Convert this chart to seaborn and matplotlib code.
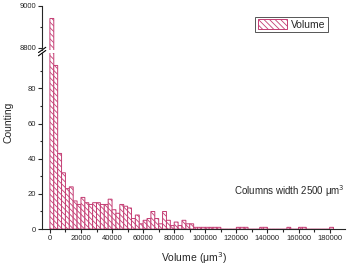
import numpy as np
import pandas as pd
import seaborn as sns
import matplotlib.pyplot as plt
from matplotlib.patches import Patch

# counts per 2500 um^3 column
bin_width = 2500
counts = [8940, 93, 43, 32, 23, 24, 16, 14, 18, 15, 14, 15, 15, 14, 14, 17,
          11, 9, 14, 13, 12, 6, 8, 3, 5, 6, 10, 6, 3, 10, 5, 2, 4, 2, 5, 3,
          3, 1, 1, 1, 1, 1, 1, 1, 0, 0, 0, 0, 1, 1, 1, 0, 0, 0, 1, 1, 0, 0,
          0, 0, 0, 1, 0, 0, 1, 1, 0, 0, 0, 0, 0, 0, 1]
bin_left = np.arange(len(counts)) * bin_width

low_ticks = [0, 20, 40, 60, 80]
high_ticks = [8800, 9000]
x_ticks = [0, 20000, 40000, 60000, 80000, 100000, 120000, 140000, 160000, 180000]

df = pd.DataFrame({'volume': bin_left + bin_width / 2, 'count': counts})

sns.set_style("ticks")
plt.rcParams['font.family'] = ['Liberation Sans', 'DejaVu Sans']
plt.rcParams['hatch.linewidth'] = 0.6
plt.rcParams['hatch.color'] = '#c43c73'

pink = '#c43c73'
hatch = '\\' * 6

fig = plt.figure(figsize=(3.54, 2.67), dpi=100)
ax_hi = fig.add_axes([0.119, 0.813, 0.856, 0.165])
ax_lo = fig.add_axes([0.119, 0.142, 0.856, 0.659])

for ax in (ax_hi, ax_lo):
    sns.histplot(data=df, x='volume', weights='count', binwidth=bin_width,
                 binrange=(0, len(counts) * bin_width), ax=ax,
                 color='white', linewidth=0.7, alpha=1)
    for p in ax.patches:
        p.set_facecolor('white')
        p.set_edgecolor(pink)
        p.set_hatch(hatch)
        if hasattr(p, 'set_hatchcolor'):
            p.set_hatchcolor(pink)
        p.set_linewidth(0.7)
        p.set_snap(False)
    ax.set_xlim(-5000, 190000)
    ax.set_ylabel('')
    ax.set_xlabel('')
    sns.despine(ax=ax)
    ax.tick_params(labelsize=5.5, length=3, width=0.8, pad=1.5)
    ax.tick_params(which='minor', length=1.8, width=0.8)
    for s in ax.spines.values():
        s.set_linewidth(0.8)

ax_hi.set_ylim(8790, 9000)
ax_hi.set_yticks(high_ticks)
ax_hi.set_yticks([8900], minor=True)
ax_hi.spines['bottom'].set_visible(False)
ax_hi.set_xticks([])

ax_lo.set_ylim(0, 100)
ax_lo.set_yticks(low_ticks)
ax_lo.set_yticks([10, 30, 50, 70, 90], minor=True)
ax_lo.set_xticks(x_ticks)
ax_lo.set_xticks(np.arange(10000, 190000, 20000), minor=True)

# break marks on the left axis
for ax, y0 in ((ax_hi, 0.0), (ax_lo, 1.0)):
    d = 0.012
    if ax is ax_hi:
        dy = 0.06
    else:
        dy = 0.015
    ax.plot([-d, d], [y0 - dy, y0 + dy], transform=ax.transAxes,
            color='black', lw=0.8, clip_on=False)

fig.text(0.025, 0.543, 'Counting', rotation=90, ha='center', va='center', fontsize=7.5)
fig.text(0.547, 0.035, 'Volume (\u03bcm$^3$)', ha='center', va='center', fontsize=7.5)
fig.text(0.661, 0.285, 'Columns width 2500 \u03bcm$^3$', ha='left', va='center', fontsize=7)

handle = Patch(facecolor='white', edgecolor=pink, hatch=hatch, linewidth=0.7)
leg = fig.legend([handle], ['Volume'], loc='upper left',
                 bbox_to_anchor=(0.706, 0.957), fontsize=7.5,
                 handlelength=2.8, handleheight=1.0, borderpad=0.25,
                 handletextpad=0.4, fancybox=False, framealpha=1)
leg.get_frame().set_edgecolor('#555555')
leg.get_frame().set_linewidth(0.7)

fig.savefig('out.png', dpi=100)
